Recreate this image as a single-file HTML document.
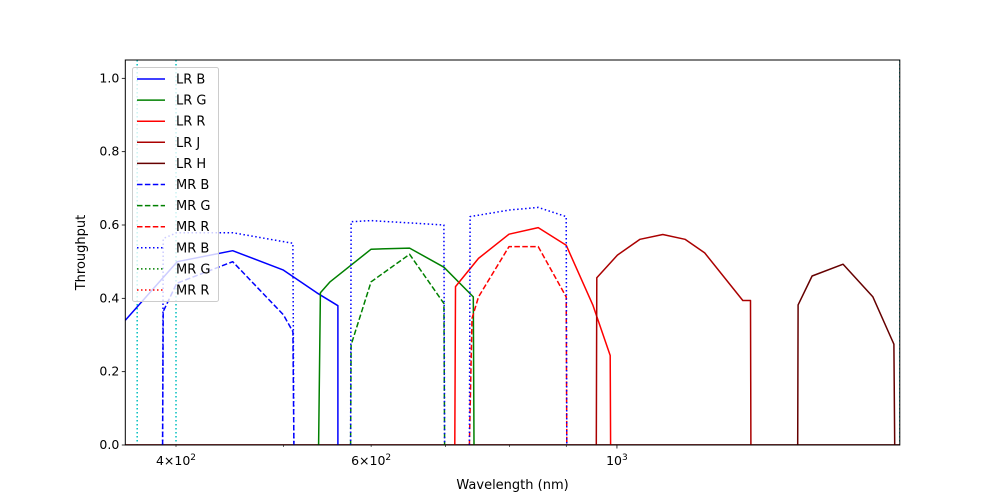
<!DOCTYPE html>
<html><head><meta charset="utf-8"><style>
body{margin:0;background:#fff;}
svg{display:block;font-family:"DejaVu Sans","Liberation Sans",sans-serif;}
</style></head><body>
<svg id="chart" width="1000" height="500" viewBox="0 0 1000 500"></svg>
<script>
const xMin=360, xMax=1800, yMin=0, yMax=1.05;
const L=125.3, R=899.8, T=60, B=445;
const yTicks=[0,0.2,0.4,0.6,0.8,1.0];
const yTickLabels=["0.0","0.2","0.4","0.6","0.8","1.0"];
const xMinorTicks=[400,500,600,700,800,900];
const xMajorTicks=[1000];
const cyanLines=[369,400,1800];

const lrB_w=[360,401,450,500,536,560,560];
const lrB_v=[0.34,0.50,0.53,0.477,0.415,0.38,0];
const lrG_w=[538,540,551,600,650,698,742,743];
const lrG_v=[0,0.415,0.445,0.534,0.537,0.485,0.404,0];
const lrR_w=[714,715,750,799,849,900,951,986,987];
const lrR_v=[0,0.432,0.509,0.575,0.593,0.545,0.382,0.244,0];
const lrJ_w=[958,959,1001,1049,1100,1152,1200,1299,1320,1321];
const lrJ_v=[0,0.456,0.518,0.561,0.574,0.561,0.524,0.394,0.394,0];
const lrH_w=[1456,1457,1500,1600,1702,1778,1781];
const lrH_v=[0,0.382,0.461,0.493,0.404,0.275,0];
const mrB_w=[389,389.5,400.6,450,500,510,511];
const mrB_v=[0,0.364,0.441,0.50,0.355,0.309,0];
const mrG_w=[575,575.5,600,650,698,699];
const mrG_v=[0,0.273,0.445,0.52,0.386,0];
const mrR_w=[736,740,750,799,849,900,901];
const mrR_v=[0,0.345,0.404,0.541,0.541,0.404,0];
const hrB_w=[389,389.5,400.6,450,510,511];
const hrB_v=[0,0.563,0.579,0.579,0.55,0];
const hrG_w=[575,575.5,600,698,699];
const hrG_v=[0,0.609,0.612,0.60,0];
const hrR_w=[736,737,800,849,900,901];
const hrR_v=[0,0.623,0.641,0.648,0.623,0];

const NS="http://www.w3.org/2000/svg";
const svg=document.getElementById('chart');
function X(w){return L+(Math.log10(w)-Math.log10(xMin))/(Math.log10(xMax)-Math.log10(xMin))*(R-L);}
function Y(v){return B-(v-yMin)/(yMax-yMin)*(B-T);}
function el(tag,attrs,parent){const e=document.createElementNS(NS,tag);for(const k in attrs)e.setAttribute(k,attrs[k]);(parent||svg).appendChild(e);return e;}

const clip=el('clipPath',{id:'pc'});
el('rect',{x:L,y:T,width:R-L,height:B-T},clip);
const plot=el('g',{'clip-path':'url(#pc)'});



cyanLines.forEach(w=>{
  const ln=el('line',{x1:X(w),x2:X(w),y1:T,y2:B,stroke:'#00bfbf','stroke-width':1.5,'stroke-dasharray':'1.5,2.5'},plot);
  
  
});

const series=[
 {n:'lr-b',w:lrB_w,v:lrB_v,c:'#0000ff',d:''},
 {n:'lr-g',w:lrG_w,v:lrG_v,c:'#008000',d:''},
 {n:'lr-r',w:lrR_w,v:lrR_v,c:'#ff0000',d:''},
 {n:'lr-j',w:lrJ_w,v:lrJ_v,c:'#aa0000',d:''},
 {n:'lr-h',w:lrH_w,v:lrH_v,c:'#660000',d:''},
 {n:'mr-b-dashed',w:mrB_w,v:mrB_v,c:'#0000ff',d:'5.5,2.4'},
 {n:'mr-g-dashed',w:mrG_w,v:mrG_v,c:'#008000',d:'5.5,2.4'},
 {n:'mr-r-dashed',w:mrR_w,v:mrR_v,c:'#ff0000',d:'5.5,2.4'},
 {n:'mr-b-dotted-1',w:hrB_w,v:hrB_v,c:'#0000ff',d:'1.5,2.5'},
 {n:'mr-b-dotted-2',w:hrG_w,v:hrG_v,c:'#0000ff',d:'1.5,2.5'},
 {n:'mr-b-dotted-3',w:hrR_w,v:hrR_v,c:'#0000ff',d:'1.5,2.5'}
];
// zero baselines
['#0000ff','#008000','#ff0000'].forEach(c=>{
  const z=el('line',{x1:L,x2:R,y1:Y(0),y2:Y(0),stroke:c,'stroke-width':1.5},plot);
  
  
});
series.forEach(s=>{
  const pts=s.w.map((w,i)=>X(w).toFixed(1)+','+Y(s.v[i]).toFixed(1)).join(' ');
  const p=el('polyline',{points:pts,fill:'none',stroke:s.c,'stroke-width':1.5,'stroke-linejoin':'round'},plot);
  if(s.d)p.setAttribute('stroke-dasharray',s.d);
  
  
});

// axes frame
const fr=el('rect',{x:L,y:T,width:R-L,height:B-T,fill:'none',stroke:'#000','stroke-width':1});



yTicks.forEach((v,i)=>{
  el('line',{x1:L-3.5,x2:L,y1:Y(v),y2:Y(v),stroke:'#000','stroke-width':0.8});
  const t=el('text',{x:L-6,y:Y(v)+4,'text-anchor':'end','font-size':12.5});
  t.textContent=yTickLabels[i];
  
  
});
xMinorTicks.forEach(w=>el('line',{x1:X(w),x2:X(w),y1:B,y2:B+2,stroke:'#000','stroke-width':0.6}));
xMajorTicks.forEach(w=>el('line',{x1:X(w),x2:X(w),y1:B,y2:B+3.5,stroke:'#000','stroke-width':0.8}));
function xlab(w,base,sup){
  const t=el('text',{x:X(w),y:B+20,'text-anchor':'middle','font-size':12.5});
  t.innerHTML=base+'<tspan dy="-5" font-size="9">'+sup+'</tspan>';
  
  
}
xlab(400,'4×10','2');xlab(600,'6×10','2');xlab(1000,'10','3');

const xt=el('text',{x:(L+R)/2,y:489,'text-anchor':'middle','font-size':13});
xt.textContent='Wavelength (nm)';


const yt=el('text',{x:85,y:(T+B)/2,'text-anchor':'middle','font-size':13,transform:'rotate(-90 85 '+((T+B)/2)+')'});
yt.textContent='Throughput';



// legend
const legendLabels=['LR B','LR G','LR R','LR J','LR H','MR B','MR G','MR R','MR B','MR G','MR R'];
const legendColors=['#0000ff','#008000','#ff0000','#aa0000','#660000','#0000ff','#008000','#ff0000','#0000ff','#008000','#ff0000'];
const legendDash=['','','','','','5.5,2.4','5.5,2.4','5.5,2.4','1.5,2.5','1.5,2.5','1.5,2.5'];
const lg=el('g',{});


el('rect',{x:132.5,y:67.5,width:86,height:234,rx:2,fill:'rgba(255,255,255,0.8)',stroke:'#cccccc','stroke-width':1},lg);
legendLabels.forEach((lab,i)=>{
  const yy=79+i*21.1;
  const g=el('g',{},lg);
  
  
  const ln=el('line',{x1:137,x2:165,y1:yy,y2:yy,stroke:legendColors[i],'stroke-width':1.5},g);
  if(legendDash[i])ln.setAttribute('stroke-dasharray',legendDash[i]);
  const t=el('text',{x:176,y:yy+4.5,'font-size':13},g);
  t.textContent=lab;
});
</script>
</body></html>
